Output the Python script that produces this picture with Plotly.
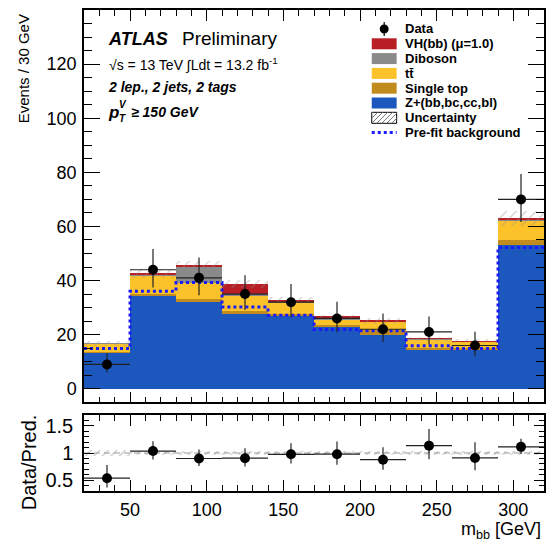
import plotly.graph_objects as go
from plotly.subplots import make_subplots

# ---------------- data ----------------
bin_centers = [35, 65, 95, 125, 155, 185, 215, 245, 275, 305]
bin_edges = [20, 50, 80, 110, 140, 170, 200, 230, 260, 290, 320]
bin_width = 30

z_jets = [13.3, 34.4, 32.4, 27.8, 27.0, 22.9, 19.8, 14.5, 14.5, 53.0]
single_top = [0.3, 0.6, 0.6, 0.9, 0.8, 0.6, 1.9, 0.7, 0.5, 2.0]
ttbar = [3.1, 6.7, 6.0, 5.9, 4.0, 2.1, 3.0, 3.0, 2.3, 7.1]
diboson = [0.1, 0.7, 6.1, 0.4, 0.4, 0.8, 0.3, 0.2, 0.2, 0.5]
vh_bb = [0.0, 0.1, 0.5, 3.7, 0.6, 0.2, 0.1, 0.1, 0.1, 0.3]
bkg_unc = [1.0, 1.7, 1.5, 1.5, 1.0, 0.8, 1.0, 0.8, 0.8, 2.8]
prefit_bkg = [14.9, 36.0, 39.3, 30.2, 27.2, 21.9, 21.4, 15.9, 14.9, 52.2]

data = [9, 44, 41, 35, 32, 26, 22, 21, 16, 70]
data_err_up = [4.1, 7.7, 7.5, 7.0, 6.7, 6.2, 5.8, 5.7, 5.1, 9.4]
data_err_dn = [2.9, 6.6, 6.4, 5.9, 5.6, 5.1, 4.7, 4.6, 4.0, 8.4]

main_yticks = [0, 20, 40, 60, 80, 100, 120]
ratio_yticks = [0.5, 1, 1.5]
ratio_yticklabels = ["0.5", "1", "1.5"]
xticks = [50, 100, 150, 200, 250, 300]

# ---------------- style ----------------
FONT = "Liberation Sans"
C_Z = "#1c57bd"
C_ST = "#c28b1e"
C_TT = "#fbc22a"
C_DB = "#8a8a8a"
C_VH = "#b71f25"
C_HATCH = "#8c8c8c"
C_PREFIT = "#1a1aff"

W, H = 547, 541
ML, MR, MT, MB = 84, 1, 10, 50
PW = W - ML - MR
PH = H - MT - MB


def PX(x):
    return (x - ML) / PW


def PY(y):
    return (H - MB - y) / PH


fig = make_subplots(rows=2, cols=1, shared_xaxes=True, vertical_spacing=0.0)

# stacked components (cumulative bases)
components = [
    ("Z+(bb,bc,cc,bl)", z_jets, C_Z),
    ("Single top", single_top, C_ST),
    ("tt", ttbar, C_TT),
    ("Diboson", diboson, C_DB),
    ("VH(bb)", vh_bb, C_VH),
]
base = [0.0] * len(bin_centers)
for name, vals, col in components:
    fig.add_trace(go.Bar(x=bin_centers, y=vals, base=list(base), width=bin_width,
                         marker=dict(color=col, line=dict(width=0)),
                         name=name, showlegend=False), row=1, col=1)
    base = [b + v for b, v in zip(base, vals)]
total = base

# uncertainty hatch
fig.add_trace(go.Bar(x=bin_centers, y=[2 * u for u in bkg_unc],
                     base=[t - u for t, u in zip(total, bkg_unc)], width=bin_width,
                     marker=dict(color="rgba(0,0,0,0)", line=dict(width=0),
                                 pattern=dict(shape="/", fgcolor=C_HATCH, bgcolor="rgba(0,0,0,0)",
                                              size=7, solidity=0.15)),
                     showlegend=False), row=1, col=1)

# pre-fit background (step)
fig.add_trace(go.Scatter(x=bin_edges, y=prefit_bkg + [prefit_bkg[-1]], mode="lines",
                         line=dict(color=C_PREFIT, width=3, dash="3px,3px", shape="hv"),
                         showlegend=False), row=1, col=1)

# data
fig.add_trace(go.Scatter(x=bin_centers, y=data, mode="markers",
                         marker=dict(color="black", size=10),
                         error_y=dict(type="data", symmetric=False, array=data_err_up,
                                      arrayminus=data_err_dn, width=0, thickness=1.2, color="#222"),
                         error_x=dict(type="constant", value=bin_width / 2, width=0,
                                      thickness=1.2, color="#222"),
                         showlegend=False), row=1, col=1)

# ratio panel
ratio = [d / t for d, t in zip(data, total)]
ratio_up = [e / t for e, t in zip(data_err_up, total)]
ratio_dn = [e / t for e, t in zip(data_err_dn, total)]
rel_unc = [u / t for u, t in zip(bkg_unc, total)]

fig.add_trace(go.Bar(x=bin_centers, y=[2 * r for r in rel_unc],
                     base=[1 - r for r in rel_unc], width=bin_width,
                     marker=dict(color="rgba(0,0,0,0)", line=dict(width=0),
                                 pattern=dict(shape="/", fgcolor=C_HATCH, bgcolor="rgba(0,0,0,0)",
                                              size=6, solidity=0.2)),
                     showlegend=False), row=2, col=1)
fig.add_trace(go.Scatter(x=[bin_edges[0], bin_edges[-1]], y=[1, 1], mode="lines",
                         line=dict(color="#999", width=1.2, dash="6px,4px"),
                         showlegend=False), row=2, col=1)
fig.add_trace(go.Scatter(x=bin_centers, y=ratio, mode="markers",
                         marker=dict(color="black", size=10),
                         error_y=dict(type="data", symmetric=False, array=ratio_up,
                                      arrayminus=ratio_dn, width=0, thickness=1.2, color="#222"),
                         error_x=dict(type="constant", value=bin_width / 2, width=0,
                                      thickness=1.2, color="#222"),
                         showlegend=False), row=2, col=1)

axis_common = dict(showline=True, linecolor="black", linewidth=1.5, mirror="allticks",
                   ticks="inside", tickcolor="black", showgrid=False, zeroline=False,
                   tickfont=dict(family=FONT, size=18, color="black"))

fig.update_xaxes(range=[20, 320], tickvals=xticks, **axis_common)
fig.update_xaxes(row=1, col=1, showticklabels=False, ticklen=11,
                 minor=dict(dtick=10, tick0=0, ticklen=6, ticks="inside", tickcolor="black"))
fig.update_xaxes(row=2, col=1, ticklen=11, ticklabelstandoff=2,
                 minor=dict(dtick=10, tick0=0, ticklen=6, ticks="inside", tickcolor="black"))
fig.update_yaxes(row=1, col=1, range=[-5, 140], tickvals=main_yticks, ticklen=16,
                 domain=[PY(402.3), 1.0], ticklabelstandoff=2,
                 minor=dict(dtick=5, tick0=0, ticklen=8, ticks="inside", tickcolor="black"),
                 **axis_common)
fig.update_yaxes(row=2, col=1, range=[0.3, 1.7], tickvals=ratio_yticks,
                 ticktext=ratio_yticklabels, ticklen=10, domain=[0.0, PY(415)],
                 ticklabelstandoff=5,
                 minor=dict(dtick=0.1, tick0=0, ticklen=5, ticks="inside", tickcolor="black"),
                 **axis_common)
fig.update_yaxes(row=2, col=1, tickfont=dict(family=FONT, size=20, color="black"))

fig.update_layout(width=W, height=H, margin=dict(l=ML, r=MR, t=MT, b=MB),
                  paper_bgcolor="white", plot_bgcolor="white", barmode="overlay",
                  bargap=0, showlegend=False, font=dict(family=FONT, color="black"))

ann = []


def text(x, y, s, size, xanchor="left", yanchor="middle", angle=0):
    ann.append(dict(x=PX(x), y=PY(y), xref="paper", yref="paper", text=s, showarrow=False,
                    xanchor=xanchor, yanchor=yanchor, textangle=angle,
                    font=dict(family=FONT, size=size, color="black")))


# axis titles
text(23.5, 12, "Events / 30 GeV", 15, xanchor="center", yanchor="top", angle=-90)
text(29, 462, "Data/Pred.", 20, xanchor="center", yanchor="middle", angle=-90)
text(545, 530, "m<sub>bb</sub> [GeV]", 18, xanchor="right", yanchor="middle")

# ATLAS labels
text(106, 39, "<b><i>ATLAS</i></b>", 18)
text(180, 39, "Preliminary", 19)
text(107, 64, "√s = 13 TeV ∫Ldt = 13.2 fb<sup>-1</sup>", 14)
text(106, 87, "<b><i>2 lep., 2 jets, 2 tags</i></b>", 14)
text(106, 112, "<b><i>p</i></b>", 17)
text(117, 104, "<b><i>V</i></b>", 10)
text(117, 119, "<b><i>T</i></b>", 10)
text(129, 112, "<b><i>≥ 150 GeV</i></b>", 14)

# legend
shapes = []
rows_y = [29, 43.8, 58.6, 73.4, 88.2, 103, 117.8, 132.6]
labels = ["Data", "VH(bb) (μ=1.0)", "Diboson", "tt\u0304", "Single top",
          "Z+(bb,bc,cc,bl)", "Uncertainty", "Pre-fit background"]
box_cols = [None, C_VH, C_DB, C_TT, C_ST, C_Z, None, None]
bx0, bx1 = 373, 398
for yy, lab, col in zip(rows_y, labels, box_cols):
    text(404, yy, "<b>" + lab + "</b>", 13)
    if col is not None:
        shapes.append(dict(type="rect", xref="paper", yref="paper", x0=PX(bx0), x1=PX(bx1),
                           y0=PY(yy + 5.5), y1=PY(yy - 5.5), fillcolor=col,
                           line=dict(width=0)))
# data legend marker
yy = rows_y[0]
shapes.append(dict(type="line", xref="paper", yref="paper", x0=PX(385.5), x1=PX(385.5),
                   y0=PY(yy - 7), y1=PY(yy + 7), line=dict(color="black", width=1.2)))
shapes.append(dict(type="circle", xref="paper", yref="paper", x0=PX(381), x1=PX(390),
                   y0=PY(yy + 4.5), y1=PY(yy - 4.5), fillcolor="black",
                   line=dict(color="black", width=0)))
# uncertainty legend box with hatch
yy = rows_y[6]
shapes.append(dict(type="rect", xref="paper", yref="paper", x0=PX(bx0), x1=PX(bx1),
                   y0=PY(yy + 5.5), y1=PY(yy - 5.5), fillcolor="white",
                   line=dict(color="black", width=1)))
for k in range(-10, 26, 5):
    xa, xb = bx0 + k, bx0 + k + 11
    ya, yb = yy + 5.5, yy - 5.5
    if xa < bx0:
        ya = ya - (bx0 - xa)
        xa = bx0
    if xb > bx1:
        yb = yb + (xb - bx1)
        xb = bx1
    if xb > xa:
        shapes.append(dict(type="line", xref="paper", yref="paper", x0=PX(xa), x1=PX(xb),
                           y0=PY(ya), y1=PY(yb), line=dict(color="#777", width=1)))
# pre-fit legend line
yy = rows_y[7]
shapes.append(dict(type="line", xref="paper", yref="paper", x0=PX(bx0), x1=PX(bx1),
                   y0=PY(yy), y1=PY(yy), line=dict(color=C_PREFIT, width=3, dash="3px,3px")))

fig.update_layout(annotations=ann, shapes=shapes)
fig.write_html("out.html", config={"displayModeBar": False},
               post_script="document.body.style.margin='0';document.body.style.overflow='hidden';")
